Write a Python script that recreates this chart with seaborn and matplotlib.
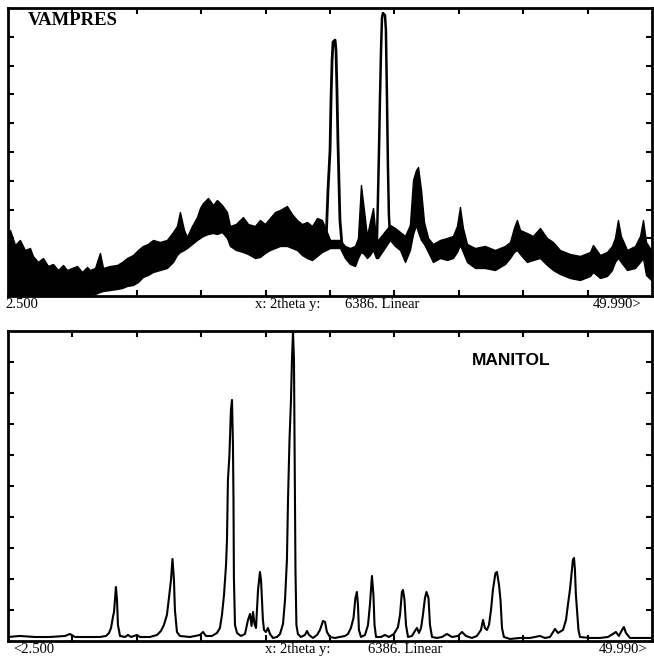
import numpy as np
import pandas as pd
import matplotlib
matplotlib.use("Agg")
import matplotlib.pyplot as plt
import seaborn as sns

#%% dados lidos do difratograma (2theta em graus, intensidade em contagens)
x_min, x_max = 2.5, 49.99
y_max = 6386

# VAMPRES - faixa de ruido (envelope inferior / superior)
vamp_theta = [2.50, 2.65, 3.02, 3.38, 3.75, 4.12, 4.34, 4.71, 5.08, 5.45, 5.82, 6.19, 6.56, 6.85,
              7.22, 7.59, 7.96, 8.33, 8.55, 8.92, 9.28, 9.51, 10.02, 10.54, 10.91, 11.28, 11.72,
              12.09, 12.45, 12.82, 13.19, 13.71, 14.22, 14.67, 14.96, 15.18, 15.48, 15.70, 16.07,
              16.44, 16.66, 16.88, 17.25, 17.62, 17.91, 18.28, 18.65, 18.87, 19.31, 19.83, 20.20,
              20.71, 21.08, 21.45, 21.82, 22.19, 22.56, 23.07, 23.44, 23.81, 24.18, 24.55, 24.92,
              25.29, 25.65, 25.96, 26.25, 26.98, 27.35, 27.72, 28.09, 28.31, 28.53, 28.75, 28.97,
              29.19, 29.42, 29.64, 29.78, 30.67, 31.04, 31.41, 31.78, 32.14, 32.37, 32.59, 32.74,
              32.96, 33.18, 33.48, 33.84, 34.36, 34.87, 35.31, 35.61, 35.83, 36.05, 36.35, 36.94,
              37.67, 38.41, 39.15, 39.52, 39.81, 40.03, 40.26, 40.77, 41.21, 41.73, 42.25, 42.69,
              43.20, 43.94, 44.68, 45.42, 45.64, 46.16, 46.67, 47.04, 47.26, 47.48, 47.70, 48.15,
              48.74, 49.11, 49.33, 49.55, 49.93]
vamp_lo = [0, 0, 0, 0, 0, 0, 0, 0, 0, 0, 0, 0, 0, 0,
           0, 0, 0, 0, 22, 44, 89, 111, 133, 155, 177, 222, 244,
           310, 421, 466, 532, 576, 621, 754, 909, 975, 1020, 1064, 1153,
           1242, 1286, 1330, 1375, 1397, 1375, 1419, 1286, 1109, 1020, 975, 931,
           842, 865, 953, 1020, 1064, 1109, 1109, 1064, 1020, 909, 842, 798,
           887, 975, 1020, 1064, 1064, 842, 709, 665, 842, 975, 931, 842,
           909, 1020, 842, 842, 1242, 1109, 1020, 754, 1020, 1375, 1574, 1419,
           1242, 1153, 975, 754, 842, 798, 842, 975, 1131, 975, 754, 621,
           621, 576, 709, 842, 975, 1020, 931, 754, 798, 842, 687, 576,
           488, 399, 355, 443, 532, 399, 443, 576, 754, 842, 754, 576,
           621, 754, 842, 466, 355]
vamp_hi = [1330, 1463, 1131, 1242, 1020, 1064, 887, 754, 842, 665, 709, 576, 687, 576,
           621, 665, 532, 643, 576, 621, 953, 621, 665, 687, 754, 842, 909,
           1020, 1109, 1153, 1242, 1197, 1242, 1419, 1552, 1862, 1463, 1308, 1552,
           1751, 1951, 2062, 2173, 2017, 2128, 2017, 1862, 1552, 1596, 1751, 1596,
           1552, 1685, 1596, 1729, 1862, 1907, 1995, 1818, 1685, 1596, 1641, 1552,
           1729, 1685, 1463, 1242, 1242, 1109, 1064, 1109, 1286, 2461, 1907, 1330,
           1641, 1951, 1242, 1242, 1574, 1508, 1419, 1330, 1574, 2572, 2793, 2860,
           2350, 1641, 1286, 1153, 1242, 1286, 1330, 1552, 1973, 1508, 1153, 1064,
           1109, 1020, 1109, 1197, 1508, 1685, 1463, 1397, 1330, 1508, 1286, 1197,
           1020, 931, 887, 975, 1131, 909, 975, 1109, 1286, 1685, 1330, 1020,
           1109, 1330, 1685, 1197, 1020]

# VAMPRES - os dois picos principais
pico1_theta = [25.96, 26.10, 26.25, 26.32, 26.40, 26.47, 26.62, 26.69, 26.76, 26.83, 26.91, 26.98, 27.13]
pico1_int = [1242, 2350, 3237, 4345, 5232, 5631, 5676, 5454, 4567, 3459, 2505, 1685, 1131]
pico2_theta = [29.71, 29.78, 29.86, 29.93, 30.01, 30.08, 30.15, 30.30, 30.37, 30.45, 30.52, 30.59, 30.67]
pico2_int = [1242, 2128, 3237, 4345, 5454, 6163, 6274, 6230, 5897, 4345, 2860, 1796, 1352]

# MANITOL
man_theta = [2.50, 3.38, 4.49, 5.60, 6.70, 7.07, 7.44, 8.55, 9.28, 9.73, 9.95, 10.10, 10.24, 10.32,
             10.39, 10.46, 10.54, 10.61, 10.76, 11.13, 11.35, 11.57, 12.01, 12.23, 12.97, 13.49,
             13.78, 14.00, 14.22, 14.37, 14.52, 14.63, 14.74, 14.81, 14.96, 15.18, 15.92, 16.66,
             16.88, 17.10, 17.54, 17.91, 18.13, 18.28, 18.43, 18.58, 18.65, 18.72, 18.83, 18.94,
             19.02, 19.09, 19.13, 19.16, 19.24, 19.39, 19.68, 19.98, 20.20, 20.35, 20.46, 20.57,
             20.68, 20.79, 20.94, 21.08, 21.16, 21.23, 21.30, 21.38, 21.52, 21.67, 21.82, 22.04,
             22.34, 22.56, 22.78, 22.93, 23.07, 23.15, 23.26, 23.37, 23.44, 23.52, 23.59, 23.66,
             23.70, 23.77, 23.88, 24.10, 24.40, 24.55, 24.70, 24.99, 25.29, 25.51, 25.73, 25.88,
             26.02, 26.24, 26.61, 26.98, 27.35, 27.57, 27.79, 27.98, 28.12, 28.23, 28.31, 28.38,
             28.53, 28.83, 29.05, 29.19, 29.34, 29.45, 29.53, 29.64, 30.01, 30.30, 30.59, 30.96,
             31.26, 31.41, 31.55, 31.63, 31.74, 31.85, 32.00, 32.29, 32.51, 32.66, 32.81, 32.96,
             33.10, 33.25, 33.36, 33.51, 33.62, 33.77, 34.13, 34.50, 34.87, 35.24, 35.68, 35.98,
             36.27, 36.71, 37.08, 37.38, 37.53, 37.67, 37.82, 37.97, 38.12, 38.26, 38.45, 38.56,
             38.71, 38.82, 38.93, 39.07, 39.52, 40.26, 40.99, 41.73, 42.10, 42.47, 42.84, 43.06,
             43.43, 43.65, 43.79, 43.94, 44.05, 44.16, 44.24, 44.31, 44.38, 44.46, 44.57, 44.68,
             45.42, 46.16, 46.74, 47.11, 47.33, 47.55, 47.78, 47.92, 48.07, 48.37, 49.10, 49.91]
man_int = [82, 103, 82, 82, 103, 144, 82, 82, 82, 103, 165, 268, 494, 597,
           845, 1112, 845, 330, 103, 82, 124, 82, 124, 82, 82, 124,
           206, 330, 536, 886, 1257, 1689, 1257, 639, 185, 103, 82, 124,
           185, 103, 103, 165, 268, 536, 948, 1566, 2081, 3317, 3832, 4759,
           4965, 4038, 2905, 1318, 330, 165, 103, 144, 433, 556, 309, 597,
           350, 268, 1051, 1421, 1257, 845, 433, 227, 185, 268, 144, 62,
           82, 144, 350, 845, 1669, 2905, 4141, 4965, 5789, 6365, 5789, 2905,
           1463, 330, 144, 82, 124, 206, 124, 62, 124, 227, 412, 391,
           185, 82, 62, 82, 103, 144, 268, 474, 886, 1009, 742, 227,
           82, 124, 330, 742, 1339, 948, 330, 82, 82, 124, 82, 144,
           288, 536, 1009, 1051, 845, 330, 82, 103, 206, 268, 165, 268,
           536, 886, 1009, 886, 330, 82, 62, 82, 144, 82, 103, 185,
           103, 62, 103, 227, 433, 268, 227, 330, 639, 1051, 1401, 1421,
           1154, 845, 268, 82, 41, 62, 62, 103, 62, 82, 247, 165,
           227, 433, 742, 1051, 1360, 1669, 1710, 1463, 948, 639, 227, 82,
           62, 62, 82, 144, 185, 103, 227, 288, 165, 62, 62, 62]

df_vamp = pd.DataFrame({"theta": vamp_theta, "lo": vamp_lo, "hi": vamp_hi})
df_p1 = pd.DataFrame({"theta": pico1_theta, "int": pico1_int})
df_p2 = pd.DataFrame({"theta": pico2_theta, "int": pico2_int})
df_man = pd.DataFrame({"theta": man_theta, "int": man_int})

#%% figura
sns.set_style("white")
plt.rcParams["font.family"] = ["Liberation Serif", "DejaVu Serif"]
plt.rcParams["text.color"] = "black"

fig = plt.figure(figsize=(6.54, 6.57), dpi=100)
ax1 = fig.add_axes([0.0122, 0.5495, 0.9847, 0.4383])
ax2 = fig.add_axes([0.0122, 0.0244, 0.9847, 0.4718])

# faixa de ruido do VAMPRES
ax1.fill_between(df_vamp["theta"], df_vamp["lo"], df_vamp["hi"],
                 color="black", edgecolor="black", lw=1.0)
sns.lineplot(data=df_p1, x="theta", y="int", ax=ax1, color="black", lw=2.0,
             estimator=None, sort=False)
sns.lineplot(data=df_p2, x="theta", y="int", ax=ax1, color="black", lw=1.8,
             estimator=None, sort=False)

sns.lineplot(data=df_man, x="theta", y="int", ax=ax2, color="black", lw=1.5,
             estimator=None, sort=False)

passo_x = (x_max - x_min) / 10
for ax in (ax1, ax2):
    ax.set_xlim(x_min, x_max)
    ax.set_ylim(0, y_max)
    ax.set_xticks(x_min + passo_x * np.arange(1, 10))
    ax.set_yticks(y_max / 10 * np.arange(1, 10))
    ax.tick_params(direction="in", length=4, width=1.5, color="black", top=True, right=True,
                   left=True, bottom=True, labelbottom=False, labelleft=False)
    ax.set_xlabel("")
    ax.set_ylabel("")
    for s in ax.spines.values():
        s.set_linewidth(2)
        s.set_color("black")

ax1.text(0.03, 0.955, "VAMPRES", transform=ax1.transAxes, fontsize=13.5,
         fontweight="bold", va="center", ha="left", color="black")
ax2.text(0.72, 0.905, "MANITOL", transform=ax2.transAxes, fontsize=12.5,
         fontweight="bold", va="center", ha="left", family="Liberation Sans",
         color="black")

# rotulos do eixo (estilo do software do difratometro)
fs = 10.5
fig.text(0.008, 0.536, "2.500", fontsize=fs, va="center")
fig.text(0.39, 0.536, "x: 2theta y:", fontsize=fs, va="center")
fig.text(0.528, 0.536, "6386. Linear", fontsize=fs, va="center")
fig.text(0.98, 0.536, "49.990>", fontsize=fs, va="center", ha="right")

fig.text(0.021, 0.011, "<2.500", fontsize=fs, va="center")
fig.text(0.405, 0.011, "x: 2theta y:", fontsize=fs, va="center")
fig.text(0.563, 0.011, "6386. Linear", fontsize=fs, va="center")
fig.text(0.99, 0.011, "49.990>", fontsize=fs, va="center", ha="right")

plt.savefig("out.png", dpi=100)
plt.close()
